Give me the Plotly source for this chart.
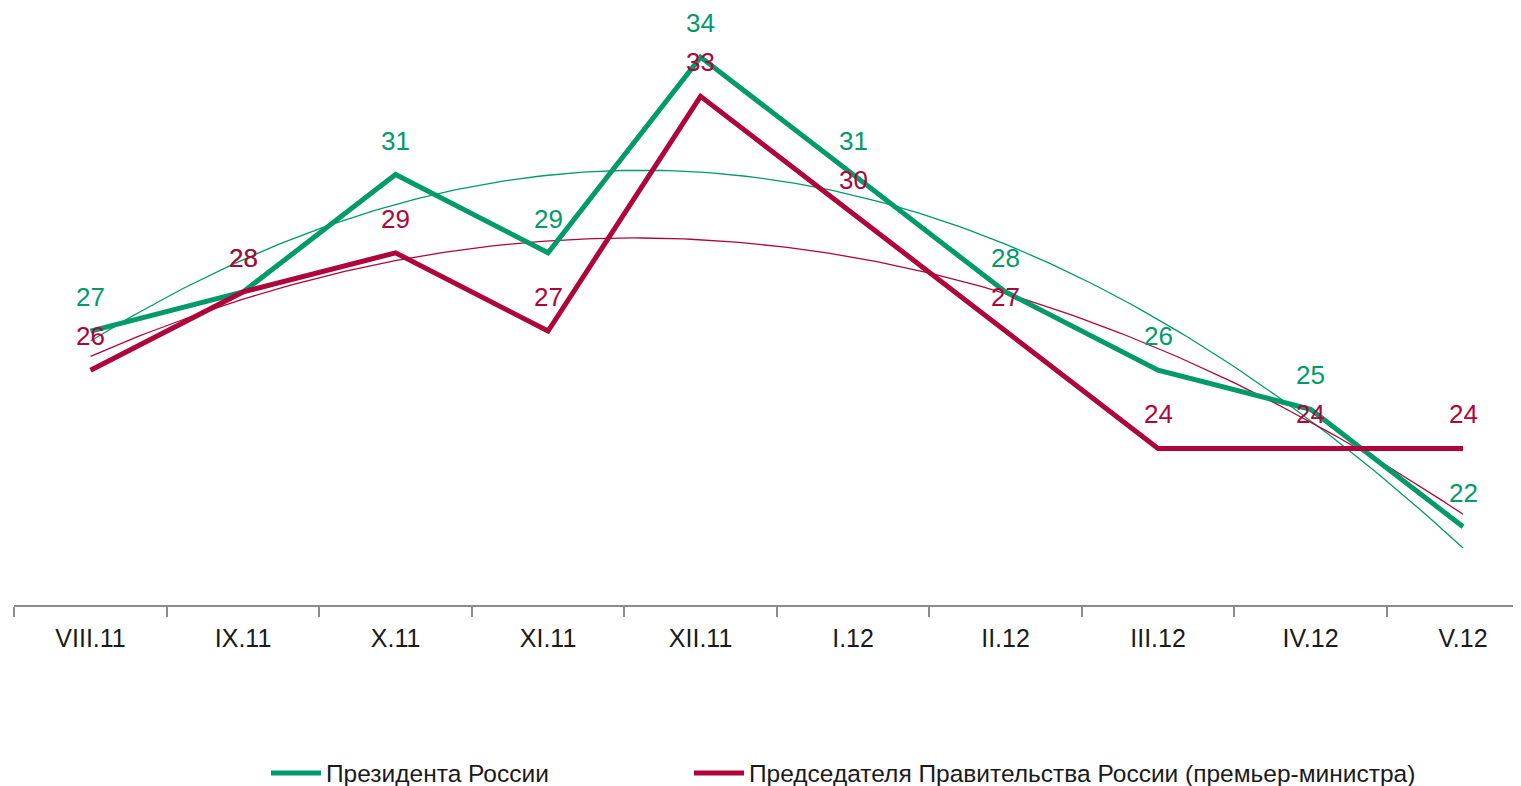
import plotly.graph_objects as go
import numpy as np

months = ["VIII.11", "IX.11", "X.11", "XI.11", "XII.11", "I.12", "II.12", "III.12", "IV.12", "V.12"]
president = [27, 28, 31, 29, 34, 31, 28, 26, 25, 22]
premier = [26, 28, 29, 27, 33, 30, 27, 24, 24, 24]

GREEN = "#009A6B"
RED = "#B0053A"

x = np.arange(len(months))
xs = np.linspace(0, len(months) - 1, 200)


def trend(vals):
    # second-order polynomial trendline, like the spreadsheet one
    return np.polyval(np.polyfit(x, vals, 2), xs)


fig = go.Figure()

fig.add_trace(go.Scatter(x=xs, y=trend(president), mode="lines",
                         line=dict(color=GREEN, width=1.3), showlegend=False, hoverinfo="skip"))
fig.add_trace(go.Scatter(x=xs, y=trend(premier), mode="lines",
                         line=dict(color=RED, width=1.3), showlegend=False, hoverinfo="skip"))

fig.add_trace(go.Scatter(x=x, y=president, mode="lines", name="Президента России",
                         line=dict(color=GREEN, width=5), legend="legend"))
fig.add_trace(go.Scatter(x=x, y=premier, mode="lines",
                         name="Председателя Правительства России (премьер-министра)",
                         line=dict(color=RED, width=5), legend="legend2"))

# data labels above each point
for vals, col in [(president, GREEN), (premier, RED)]:
    for xi, v in zip(x, vals):
        fig.add_annotation(x=xi, y=v, text=str(v), showarrow=False, yshift=34,
                           font=dict(color=col, size=26, family="Liberation Sans, Arial"))

leg_font = dict(size=24.5, family="Liberation Sans, Arial", color="#1a1a1a")

fig.update_layout(
    width=1513, height=778,
    margin=dict(l=6, r=0, t=10, b=181, autoexpand=False),
    plot_bgcolor="white", paper_bgcolor="white",
    font=dict(family="Liberation Sans, Arial", color="#1a1a1a"),
    xaxis=dict(range=[-0.502, 9.38], tickvals=list(x), ticktext=months,
               showgrid=False, zeroline=False, showline=True, linecolor="#8c8c8c", linewidth=1.5,
               ticks="", tickfont=dict(size=25), ticklabelstandoff=10, tickangle=0,
               minor=dict(ticks="outside", tick0=-0.5, dtick=1, ticklen=10,
                          tickcolor="#8c8c8c", tickwidth=1.5, showgrid=False)),
    yaxis=dict(range=[20, 35], visible=False),
    legend=dict(xref="container", yref="container", x=258 / 1513, xanchor="left",
                y=1 - 765 / 778, yanchor="middle", font=leg_font, itemwidth=50),
    legend2=dict(xref="container", yref="container", x=681 / 1513, xanchor="left",
                 y=1 - 765 / 778, yanchor="middle", font=leg_font, itemwidth=50),
)

fig.write_html("out.html")
